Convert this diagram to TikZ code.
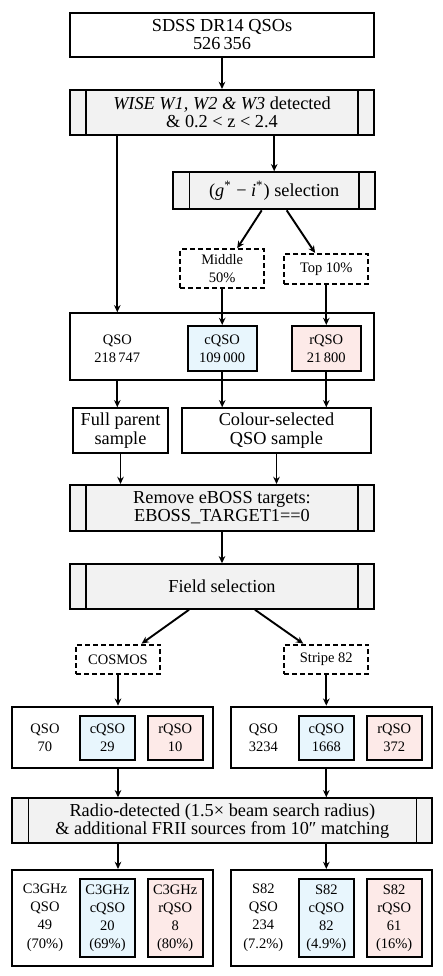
\documentclass[tikz,border=0pt]{standalone}
\usepackage{fontspec}
\setmainfont{Liberation Serif}
\usepackage{tikz}
\usetikzlibrary{arrows.meta, positioning, calc}
\definecolor{cqsoblue}{RGB}{232, 246, 253}
\definecolor{rqsored}{RGB}{253, 234, 232}
\definecolor{procgray}{RGB}{242, 242, 242}

\begin{document}
\begin{tikzpicture}[
    x=0.5pt, y=-0.5pt,
    box/.style={rectangle, draw, line width=1.05pt, inner sep=0pt, align=center, font={\fontsize{9.15pt}{9.15pt}\selectfont}},
    process/.style={box, fill=procgray, path picture={
        \draw[line width=0.75pt] ([xshift=8pt]path picture bounding box.north west) -- ([xshift=8pt]path picture bounding box.south west)
            ([xshift=-8pt]path picture bounding box.north east) -- ([xshift=-8pt]path picture bounding box.south east);}},
    choice/.style={box, dash pattern=on 2.5pt off 1.5pt, font={\fontsize{7.25pt}{9.15pt}\selectfont}},
    cqso/.style={box, fill=cqsoblue, font={\fontsize{7.25pt}{9.15pt}\selectfont}},
    rqso/.style={box, fill=rqsored, font={\fontsize{7.25pt}{9.15pt}\selectfont}},
    count/.style={align=center, inner sep=0pt, font={\fontsize{7.25pt}{9.15pt}\selectfont}},
    arrow/.style={-{Stealth[length=3.6pt, width=3.3pt]}, line width=0.95pt}
]
\useasboundingbox (0,0) rectangle (443,976);

% Parent sample
\node[box, minimum width=152pt, minimum height=22pt] (sdss) at (222,34.7) {SDSS DR14 QSOs\\526\,356};
\node[process, minimum width=152pt, minimum height=22.5pt] (wise) at (222,112.5) {\textit{WISE W1, W2 \& W3} detected\\\& 0.2 < z < 2.4};

% Colour selection
\node[process, minimum width=100.8pt, minimum height=18.5pt] (gi) at (274.2,190.8) {(\textit{g}\textsuperscript{*} − \textit{i}\textsuperscript{*}) selection};
\node[choice, minimum width=42pt, minimum height=19.2pt] (middle) at (222.2,268.5) {Middle\\50\%};
\node[choice, minimum width=42pt, minimum height=15pt] (top) at (326.3,269) {Top 10\%};

% Samples
\node[box, minimum width=152pt, minimum height=33.5pt] (qsobig) at (222,346.8) {};
\node[count] (qsoall) at (117.3,348.5) {QSO\\218\,747};
\node[cqso, minimum width=34.5pt, minimum height=22.5pt] (cqsoall) at (222.2,348.5) {cQSO\\109\,000};
\node[rqso, minimum width=34.5pt, minimum height=22.5pt] (rqsoall) at (326.3,348.5) {rQSO\\21\,800};

\node[box, minimum width=47.8pt, minimum height=22.2pt] (full) at (120.5,430.5) {Full parent\\sample};
\node[box, minimum width=94.5pt, minimum height=22.2pt] (colour) at (276.5,430.5) {Colour-selected\\QSO sample};

% Cuts
\node[process, minimum width=152pt, minimum height=22.8pt] (eboss) at (222,507.8) {Remove eBOSS targets:\\EBOSS\_TARGET1==0};
\node[process, minimum width=152pt, minimum height=22.2pt] (field) at (222,586.5) {Field selection};

% Fields
\node[choice, minimum width=42pt, minimum height=14.8pt] (cosmos) at (118,659.5) {COSMOS};
\node[choice, minimum width=42pt, minimum height=14.8pt] (stripe) at (326.3,659.5) {Stripe 82};

\node[box, minimum width=100.5pt, minimum height=30.8pt] (cosmid) at (112.8,737.5) {};
\node[count] (cosqso) at (45,738) {QSO\\70};
\node[cqso, minimum width=27.5pt, minimum height=22.2pt] (coscqso) at (107.5,737.8) {cQSO\\29};
\node[rqso, minimum width=27.5pt, minimum height=22.2pt] (cosrqso) at (175.2,737.8) {rQSO\\10};

\node[box, minimum width=100.7pt, minimum height=30.8pt] (s82mid) at (331.7,737.5) {};
\node[count] (s82qso) at (263.3,738) {QSO\\3234};
\node[cqso, minimum width=27.5pt, minimum height=22.2pt] (s82cqso) at (326.3,737.8) {cQSO\\1668};
\node[rqso, minimum width=27.5pt, minimum height=22.2pt] (s82rqso) at (394.2,737.8) {rQSO\\372};

% Radio matching
\node[process, minimum width=210pt, minimum height=22.5pt] (radio) at (222.3,820.8) {Radio-detected (1.5× beam search radius)\\\& additional FRII sources from 10″ matching};

\node[box, minimum width=100.5pt, minimum height=48pt] (cosbot) at (112.8,918) {};
\node[count] (cosqsoradio) at (45,917.5) {C3GHz\\QSO\\49\\(70\%)};
\node[cqso, minimum width=27.5pt, minimum height=39.2pt] (coscqsoradio) at (107.5,918.2) {C3GHz\\cQSO\\20\\(69\%)};
\node[rqso, minimum width=27.5pt, minimum height=39.2pt] (cosrqsoradio) at (175.2,918.2) {C3GHz\\rQSO\\8\\(80\%)};

\node[box, minimum width=100.7pt, minimum height=48pt] (s82bot) at (331.7,918) {};
\node[count] (s82qsoradio) at (263.3,917.5) {S82\\QSO\\234\\(7.2\%)};
\node[cqso, minimum width=27.5pt, minimum height=39.2pt] (s82cqsoradio) at (326.3,918.2) {S82\\cQSO\\82\\(4.9\%)};
\node[rqso, minimum width=27.5pt, minimum height=39.2pt] (s82rqsoradio) at (394.2,918.2) {S82\\rQSO\\61\\(16\%)};

% Arrows
\draw[arrow] (sdss) -- (wise);
\draw[arrow] (wise.south -| qsoall) -- (qsobig.north -| qsoall);
\draw[arrow] (wise.south -| gi) -- (gi);
\draw[arrow] ([xshift=-6.25pt]gi.south) -- ([xshift=7.5pt]middle.north);
\draw[arrow] ([xshift=6.25pt]gi.south) -- ([xshift=-5.6pt]top.north);
\draw[arrow] (middle) -- (cqsoall);
\draw[arrow] (top) -- (rqsoall);
\draw[arrow] (qsobig.south -| qsoall) -- (full.north -| qsoall);
\draw[arrow] (cqsoall) -- (colour.north -| cqsoall);
\draw[arrow] (rqsoall) -- (colour.north -| rqsoall);
\draw[arrow] (full) -- (eboss.north -| full);
\draw[arrow] (colour) -- (eboss.north -| colour);
\draw[arrow] (eboss) -- (field);
\draw[arrow] ([xshift=-16.5pt]field.south) -- ([xshift=11.8pt]cosmos.north);
\draw[arrow] ([xshift=16.5pt]field.south) -- ([xshift=-11.5pt]stripe.north);
\draw[arrow] (cosmos) -- (cosmid.north -| cosmos);
\draw[arrow] (stripe) -- (s82mid.north -| stripe);
\draw[arrow] (cosmid.south -| cosmos) -- (radio.north -| cosmos);
\draw[arrow] (s82mid.south -| stripe) -- (radio.north -| stripe);
\draw[arrow] (radio.south -| cosmos) -- (cosbot.north -| cosmos);
\draw[arrow] (radio.south -| stripe) -- (s82bot.north -| stripe);

\end{tikzpicture}
\end{document}
